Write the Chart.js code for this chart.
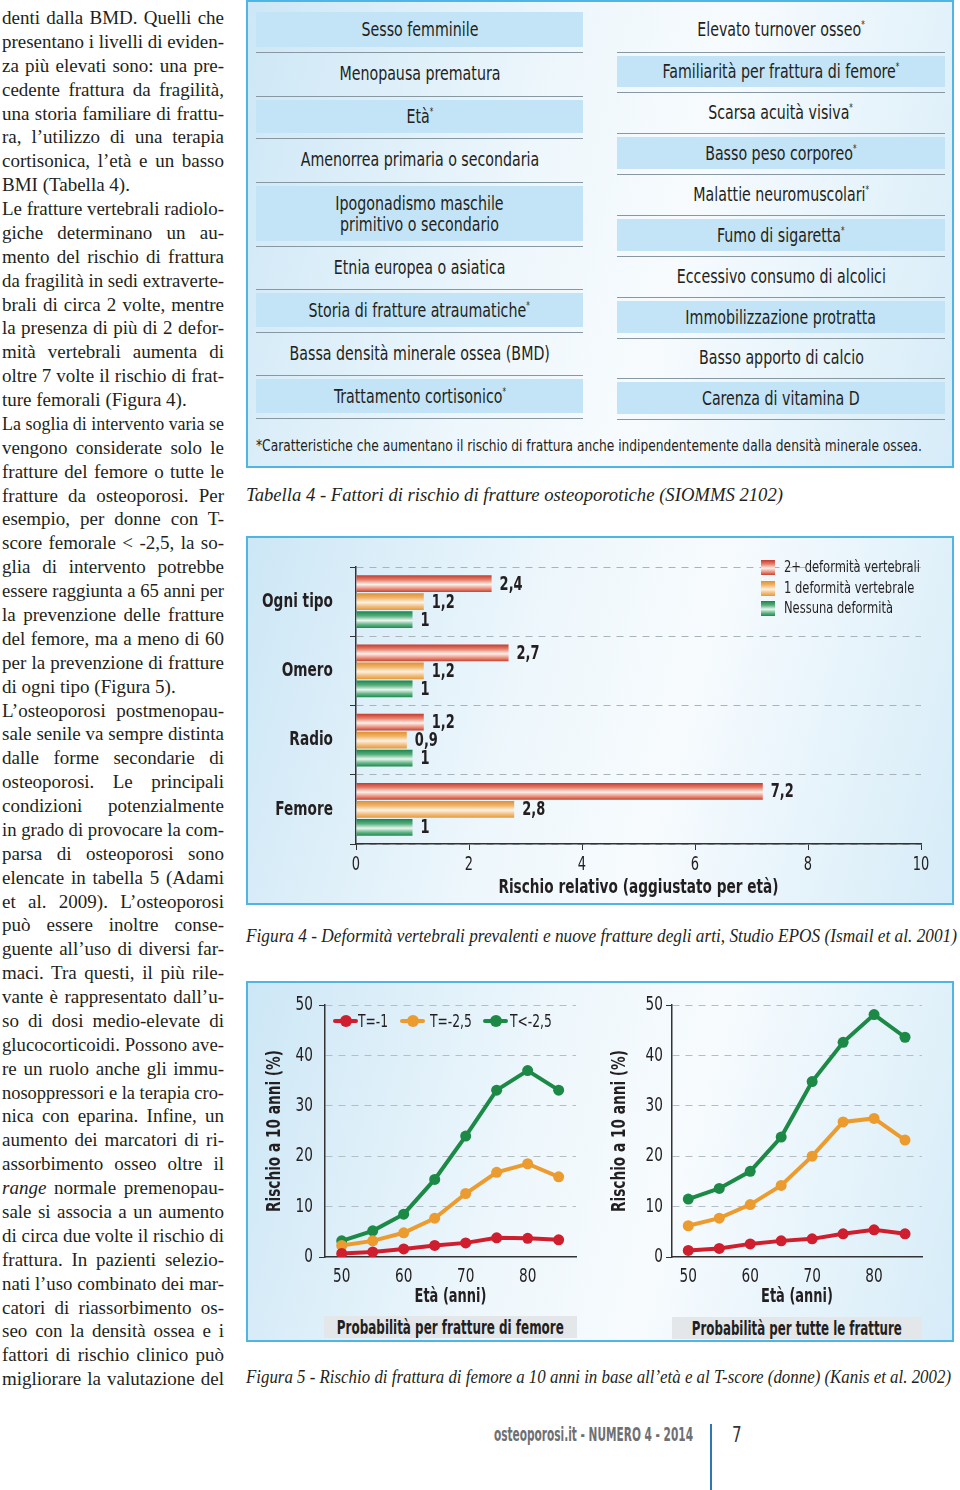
<!DOCTYPE html>
<html>
<head>
<meta charset="utf-8">
<script src="https://cdn.jsdelivr.net/npm/chart.js@4.4.1/dist/chart.umd.min.js"></script>
<style>
body{margin:0;width:960px;height:1490px;position:relative;background:#fff;overflow:hidden;color:#231f20;
  font-family:"DejaVu Sans Condensed","DejaVu Sans",sans-serif}
.a{position:absolute;white-space:nowrap}
.serif{font-family:"Liberation Serif","DejaVu Serif",serif}
#col .ln{position:absolute;left:0;white-space:nowrap;font-size:19px;line-height:23.88px}
.box{position:absolute;border:2px solid #4fb5e5;box-sizing:border-box;
  background:linear-gradient(105deg,#cde7f6 0%,#eef7fc 40%,#f7fbfe 60%,#d6ecf8 100%)}
.row{position:absolute;border-bottom:1.5px solid #8798a3;box-sizing:border-box}
.shade{position:absolute;left:0;right:0;background:#c3e4f6}
.rt{position:absolute;left:-40px;right:-40px;text-align:center;font-size:20px;line-height:21px;color:#231f20;white-space:nowrap}
.cx{display:inline-block;transform:scaleX(0.79);transform-origin:50% 50%}
.cl{display:inline-block;transform:scaleX(0.8);transform-origin:0 50%}
sup{font-size:10px;vertical-align:8px;line-height:0}
.sub{position:absolute;background:#e4e7e9;display:flex;justify-content:center;font-weight:bold;font-size:19px;line-height:22px;white-space:nowrap}
.sub span{flex:none}
.lg{position:absolute;height:4px;border-radius:2px}
.dot{position:absolute;width:12px;height:12px;border-radius:6px}
.sq{position:absolute;width:14px;height:15px}
</style>
</head>
<body>
<div id="col" class="serif a" style="left:2px;top:6px"></div>

<div class="box" style="left:246px;top:0;width:708px;height:468px"></div>
<div id="tab"></div>
<div id="foot" class="a" style="left:256px;top:436px;font-size:16px;line-height:20px">*Caratteristiche che aumentano il rischio di frattura anche indipendentemente dalla densità minerale ossea.</div>
<div id="cap1" class="a serif" style="left:246px;top:483px;font-size:19px;line-height:24px;font-style:italic">Tabella 4 - Fattori di rischio di fratture osteoporotiche (SIOMMS 2102)</div>

<div class="box" style="left:246px;top:536px;width:708px;height:369px"></div>
<canvas id="fig4" class="a" style="left:248px;top:538px" width="703" height="364"></canvas>
<div id="leg4"></div>
<div id="cap2" class="a serif" style="left:246px;top:924px;font-size:19px;line-height:24px;font-style:italic">Figura 4 - Deformità vertebrali prevalenti e nuove fratture degli arti, Studio EPOS (Ismail et al. 2001)</div>

<div class="box" style="left:246px;top:981px;width:708px;height:361px"></div>
<canvas id="fig5a" class="a" style="left:248px;top:985px" width="345" height="325"></canvas>
<canvas id="fig5b" class="a" style="left:597px;top:985px" width="345" height="325"></canvas>
<div id="leg5"></div>
<div class="sub" style="left:324px;top:1316px;width:253px;height:22px"><span id="sub1">Probabilità per fratture di femore</span></div>
<div class="sub" style="left:672px;top:1317px;width:250px;height:22px"><span id="sub2">Probabilità per tutte le fratture</span></div>
<div id="cap3" class="a serif" style="left:246px;top:1365px;font-size:19px;line-height:24px;font-style:italic">Figura 5 - Rischio di frattura di femore a 10 anni in base all’età e al T-score (donne) (Kanis et al. 2002)</div>

<div id="pub" class="a" style="left:494px;top:1424px;font-size:19px;line-height:20px;font-weight:bold;color:#6f7073">osteoporosi.it - NUMERO 4 - 2014</div>
<div class="a" style="left:710px;top:1424px;width:2px;height:66px;background:#2b78b5"></div>
<div class="a" style="left:732px;top:1423px;font-size:21px;line-height:24px;color:#333"><span class="cl">7</span></div>

<script>
const FONT = '"DejaVu Sans Condensed", "DejaVu Sans", sans-serif';
const INK = '#231f20';
const SQUEEZE = 0.76;

// body text column
const colLines = [
  'denti dalla BMD. Quelli che','presentano i livelli di eviden-','za più elevati sono: una pre-',
  'cedente frattura da fragilità,','una storia familiare di frattu-','ra, l’utilizzo di una terapia',
  'cortisonica, l’età e un basso','BMI (Tabella 4).',
  'Le fratture vertebrali radiolo-','giche determinano un au-','mento del rischio di frattura',
  'da fragilità in sedi extraverte-','brali di circa 2 volte, mentre','la presenza di più di 2 defor-',
  'mità vertebrali aumenta di','oltre 7 volte il rischio di frat-','ture femorali (Figura 4).',
  'La soglia di intervento varia se','vengono considerate solo le','fratture del femore o tutte le',
  'fratture da osteoporosi. Per','esempio, per donne con T-','score femorale &lt; -2,5, la so-',
  'glia di intervento potrebbe','essere raggiunta a 65 anni per','la prevenzione delle fratture',
  'del femore, ma a meno di 60','per la prevenzione di fratture','di ogni tipo (Figura 5).',
  'L’osteoporosi postmenopau-','sale senile va sempre distinta','dalle forme secondarie di',
  'osteoporosi. Le principali','condizioni potenzialmente','in grado di provocare la com-',
  'parsa di osteoporosi sono','elencate in tabella 5 (Adami','et al. 2009). L’osteoporosi',
  'può essere inoltre conse-','guente all’uso di diversi far-','maci. Tra questi, il più rile-',
  'vante è rappresentato dall’u-','so di dosi medio-elevate di','glucocorticoidi. Possono ave-',
  're un ruolo anche gli immu-','nosoppressori e la terapia cro-','nica con eparina. Infine, un',
  'aumento dei marcatori di ri-','assorbimento osseo oltre il','<i>range</i> normale premenopau-',
  'sale si associa a un aumento','di circa due volte il rischio di','frattura. In pazienti selezio-',
  'nati l’uso combinato dei mar-','catori di riassorbimento os-','seo con la densità ossea e i',
  'fattori di rischio clinico può','migliorare la valutazione del'
];
const paraEnds = [7, 16, 28];

function fit(el, w, full, origin) {
  const nat = el.getBoundingClientRect().width;
  if (nat > w || full === 'scale') {
    el.style.transformOrigin = origin || '0 0';
    el.style.transform = 'scaleX(' + (w / nat) + ')';
  } else if (full) {
    const n = (el.textContent.match(/ /g) || []).length;
    if (n) el.style.wordSpacing = ((w - nat) / n) + 'px';
  }
}

const col = document.getElementById('col');
colLines.forEach((t, i) => {
  const d = document.createElement('div');
  d.className = 'ln';
  d.style.top = (i * 23.88) + 'px';
  d.innerHTML = t;
  col.appendChild(d);
  fit(d, 222, !paraEnds.includes(i));
});

// Tabella 4
const tableLeft = ['Sesso femminile','Menopausa prematura','Età*','Amenorrea primaria o secondaria',
  'Ipogonadismo maschile<br>primitivo o secondario','Etnia europea o asiatica',
  'Storia di fratture atraumatiche*','Bassa densità minerale ossea (BMD)','Trattamento cortisonico*'];
const tableLeftEdges = [8, 52, 96, 138, 182, 246, 289, 332, 375, 418];
const tableRight = ['Elevato turnover osseo*','Familiarità per frattura di femore*','Scarsa acuità visiva*',
  'Basso peso corporeo*','Malattie neuromuscolari*','Fumo di sigaretta*','Eccessivo consumo di alcolici',
  'Immobilizzazione protratta','Basso apporto di calcio','Carenza di vitamina D'];
const tableRightEdges = [8, 52, 92, 133, 174, 215, 256, 297, 338, 378, 419];

function buildColumn(items, edges, left, width, shadeOdd) {
  const tab = document.getElementById('tab');
  items.forEach((t, i) => {
    const top = edges[i], bot = edges[i + 1];
    const r = document.createElement('div');
    r.className = 'row';
    r.style.cssText = `left:${left}px;top:${top}px;width:${width}px;height:${bot - top + 1}px`;
    if ((i % 2 === 1) === shadeOdd) {
      const s = document.createElement('div');
      s.className = 'shade';
      s.style.top = '4px';
      s.style.bottom = '5px';
      r.appendChild(s);
    }
    const tx = document.createElement('div');
    tx.className = 'rt';
    const lines = t.split('<br>').length;
    tx.style.top = ((bot - top) / 2 - lines * 10.5 - 0.5) + 'px';
    tx.innerHTML = '<span class="cx">' + t.replace('*', '<sup>*</sup>') + '</span>';
    r.appendChild(tx);
    tab.appendChild(r);
  });
}
buildColumn(tableLeft, tableLeftEdges, 256, 327, false);
buildColumn(tableRight, tableRightEdges, 617, 328, true);

fit(document.getElementById('foot'), 666, 'scale');
fit(document.getElementById('cap1'), 537, false);
fit(document.getElementById('cap2'), 711, false);
fit(document.getElementById('cap3'), 705, false);
fit(document.getElementById('pub'), 199, 'scale');
fit(document.getElementById('sub1'), 227, 'scale', '50% 50%');
fit(document.getElementById('sub2'), 210, 'scale', '50% 50%');

Chart.defaults.font.family = FONT;
Chart.defaults.color = INK;

// condensed lettering for canvas text (the source uses a narrow typeface)
const condensed = {
  id: 'condensed',
  afterInit(chart) {
    const ctx = chart.ctx;
    if (ctx.__narrow) return;
    ctx.__narrow = true;
    const orig = ctx.fillText.bind(ctx);
    ctx.fillText = function (t, x, y, mw) {
      this.save();
      this.translate(x, y);
      this.scale(SQUEEZE, 1);
      if (mw === undefined) orig(t, 0, 0); else orig(t, 0, 0, mw / SQUEEZE);
      this.restore();
    };
  }
};

// Figura 4 data
const fig4Categories = ['Ogni tipo', 'Omero', 'Radio', 'Femore'];
const fig4Series = ['2+ deformità vertebrali', '1 deformità vertebrale', 'Nessuna deformità'];
const fig4Multi = [2.4, 2.7, 1.2, 7.2];
const fig4Single = [1.2, 1.2, 0.9, 2.8];
const fig4None = [1, 1, 1, 1];
const fig4Ticks = [0, 2, 4, 6, 8, 10];

const barStops = [
  ['#c43a2c', '#e8826f', '#fdf0ea', '#ea8f7c', '#c8402f'],
  ['#e0902e', '#f1b66d', '#fdf1e0', '#f2bb7a', '#e39a3a'],
  ['#15864a', '#58ad7d', '#e9f6ee', '#62b385', '#1b8a4e']
];
const stopPos = [0, 0.28, 0.55, 0.8, 1];

function barFill(c) {
  const stops = barStops[c.datasetIndex];
  const el = c.element;
  if (!el || typeof el.y !== 'number' || !(el.height > 0)) return stops[0];
  const g = c.chart.ctx.createLinearGradient(0, el.y - el.height / 2, 0, el.y + el.height / 2);
  stops.forEach((s, k) => g.addColorStop(stopPos[k], s));
  return g;
}

// legend of Figura 4
const leg4 = document.getElementById('leg4');
fig4Series.forEach((name, i) => {
  const y = 568 + i * 20.5;
  const css = 'linear-gradient(180deg,' + barStops[i].map((s, k) => s + ' ' + (stopPos[k] * 100) + '%').join(',') + ')';
  leg4.insertAdjacentHTML('beforeend',
    `<div class="sq" style="left:761px;top:${y - 8}px;background:${css}"></div>` +
    `<div class="a" style="left:784px;top:${y - 11}px;font-size:16px;line-height:20px"><span class="cl">${name}</span></div>`);
});

const barLabels = {
  id: 'barLabels',
  afterDatasetsDraw(chart) {
    const ctx = chart.ctx;
    ctx.save();
    ctx.font = 'bold 19px ' + FONT;
    ctx.fillStyle = INK;
    ctx.textBaseline = 'middle';
    chart.data.datasets.forEach((ds, di) => {
      chart.getDatasetMeta(di).data.forEach((bar, i) => {
        ctx.fillText(String(ds.data[i]).replace('.', ','), bar.x + 8, bar.y + 1);
      });
    });
    ctx.restore();
  }
};

const fig4 = new Chart(document.getElementById('fig4'), {
  type: 'bar',
  data: {
    labels: fig4Categories,
    datasets: [
      { label: fig4Series[0], data: fig4Multi },
      { label: fig4Series[1], data: fig4Single },
      { label: fig4Series[2], data: fig4None }
    ]
  },
  options: {
    indexAxis: 'y',
    responsive: false,
    animation: false,
    categoryPercentage: 0.78,
    barPercentage: 0.93,
    backgroundColor: barFill,
    borderWidth: 0,
    layout: { padding: { left: 0, top: 15, right: 30, bottom: 0 } },
    plugins: { legend: { display: false }, tooltip: { enabled: false } },
    scales: {
      y: {
        afterFit: s => { s.width = 108; },
        grid: { offset: true, color: '#a9b4ba', lineWidth: 1, tickLength: 6, tickColor: '#333' },
        border: { color: '#333', width: 1.5, dash: [7, 6] },
        ticks: { padding: 17, color: INK, font: { size: 20, weight: 'bold' } }
      },
      x: {
        min: 0, max: 10,
        afterBuildTicks: s => { s.ticks = fig4Ticks.map(v => ({ value: v })); },
        afterFit: s => { s.height = 58; },
        grid: { drawOnChartArea: false, tickLength: 6, tickColor: '#333' },
        border: { color: '#333', width: 1.5 },
        ticks: { padding: 4, color: INK, font: { size: 19 }, maxRotation: 0 },
        title: { display: true, text: 'Rischio relativo (aggiustato per età)', color: INK,
          font: { size: 20, weight: 'bold' }, padding: { top: 0, bottom: 2 } }
      }
    }
  },
  plugins: [condensed, barLabels]
});
fig4.update('none');

// Figura 5 data
const ages = [50, 55, 60, 65, 70, 75, 80, 85];
const ageTicks = [50, 60, 70, 80];
const riskTicks = [0, 10, 20, 30, 40, 50];
const tSeries = ['T=-1', 'T=-2,5', 'T<-2,5'];
const tColors = ['#cf1f2e', '#ec9b2e', '#1c8a46'];
const femoreTm1 = [0.7, 1.0, 1.6, 2.3, 2.8, 3.8, 3.7, 3.4];
const femoreTm25 = [2.3, 3.2, 4.8, 7.7, 12.6, 16.8, 18.5, 15.9];
const femoreTlt25 = [3.2, 5.2, 8.5, 15.4, 24.0, 33.1, 37.0, 33.1];
const tutteTm1 = [1.3, 1.7, 2.6, 3.2, 3.6, 4.6, 5.4, 4.6];
const tutteTm25 = [6.2, 7.7, 10.4, 14.2, 20.0, 26.8, 27.5, 23.2];
const tutteTlt25 = [11.5, 13.6, 17.0, 23.8, 34.8, 42.6, 48.1, 43.6];

function lineSet(values, i) {
  return {
    label: tSeries[i],
    data: ages.map((a, k) => ({ x: a, y: values[k] })),
    borderColor: tColors[i],
    backgroundColor: tColors[i],
    pointBackgroundColor: tColors[i],
    borderWidth: 4,
    pointRadius: 5.5,
    pointBorderWidth: 0,
    tension: 0
  };
}

function lineChart(id, series, cfg) {
  return new Chart(document.getElementById(id), {
    type: 'line',
    data: { datasets: series.map(lineSet) },
    options: {
      responsive: false,
      animation: false,
      layout: { padding: { left: 0, top: 20, right: cfg.right, bottom: 0 } },
      plugins: { legend: { display: false }, tooltip: { enabled: false } },
      scales: {
        x: {
          type: 'linear', min: cfg.min, max: cfg.max,
          afterBuildTicks: s => { s.ticks = ageTicks.map(v => ({ value: v })); },
          afterFit: s => { s.height = 53; },
          grid: { drawOnChartArea: false, drawTicks: false },
          border: { color: '#333', width: 1.5 },
          ticks: { padding: 8, color: INK, font: { size: 20 }, maxRotation: 0 },
          title: { display: true, text: 'Età (anni)', color: INK,
            font: { size: 19, weight: 'bold' }, padding: { top: 0, bottom: 2 } }
        },
        y: {
          min: 0, max: 50,
          afterBuildTicks: s => { s.ticks = riskTicks.map(v => ({ value: v })); },
          afterFit: s => { s.width = cfg.yw; },
          grid: {
            color: c => (c.tick && c.tick.value === 0) ? 'rgba(0,0,0,0)' : '#b3bec5',
            tickLength: 6,
            tickColor: c => (c.tick && (c.tick.value === 0 || c.tick.value === 50)) ? '#333' : 'rgba(0,0,0,0)'
          },
          border: { color: '#333', width: 1.5, dash: [7, 6] },
          ticks: { padding: cfg.tp, color: INK, font: { size: 20 } },
          title: { display: true, text: 'Rischio a 10 anni (%)', color: INK,
            font: { size: 20, weight: 'bold' }, padding: { top: cfg.titlePad, bottom: 0 } }
        }
      }
    },
    plugins: [condensed]
  });
}

lineChart('fig5a', [femoreTm1, femoreTm25, femoreTlt25],
  { min: 47.3, max: 87.8, right: 17, yw: 77, tp: 6, titlePad: 15 });
lineChart('fig5b', [tutteTm1, tutteTm25, tutteTlt25],
  { min: 47.37, max: 87.74, right: 20, yw: 75, tp: 3, titlePad: 11 });

// legend of Figura 5 (left panel)
const leg5 = document.getElementById('leg5');
const leg5Pos = [[333, 358], [400, 430], [483, 510]];
tSeries.forEach((name, i) => {
  const [x0, tx] = leg5Pos[i];
  leg5.insertAdjacentHTML('beforeend',
    `<div class="lg" style="left:${x0}px;top:1019px;width:25px;background:${tColors[i]}"></div>` +
    `<div class="dot" style="left:${x0 + 7}px;top:1015px;background:${tColors[i]}"></div>` +
    `<div class="a" style="left:${tx}px;top:1010px;font-size:18px;line-height:21px"><span class="cl" style="transform:scaleX(0.76)">${name.replace('<', '&lt;')}</span></div>`);
});
</script>
</body>
</html>
